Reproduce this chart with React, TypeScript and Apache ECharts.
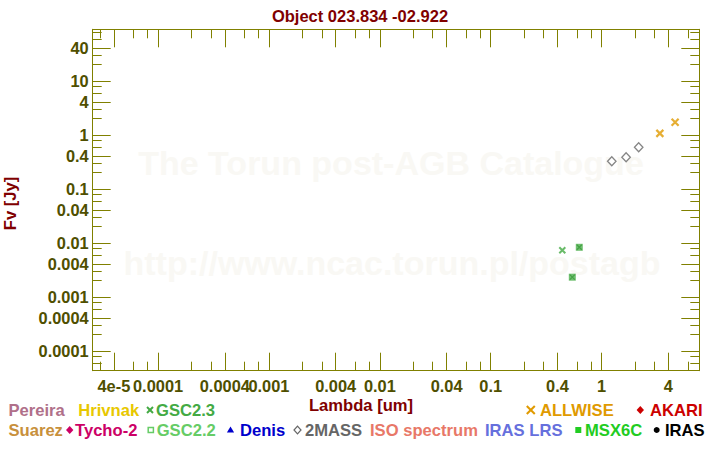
import React, { useEffect, useRef } from "react";
import * as echarts from "echarts";

// ---- data (wavelength in um, flux in Jy) ----
const allwiseLambda = [3.35, 4.6];
const allwiseFlux = [1.07, 1.72];
const twomassLambda = [1.235, 1.662, 2.159];
const twomassFlux = [0.326, 0.386, 0.592];
const gsc23Lambda = [0.442];
const gsc23Flux = [0.0073];
const gsc22Lambda = [0.544, 0.629];
const gsc22Flux = [0.00232, 0.0083];

// ---- axis ticks ----
const xRange = [2.575e-5, 7.6];
const yRange = [4.3e-5, 90.5];
const xMajorTicks = [4e-5, 1e-4, 4e-4, 1e-3, 4e-3, 0.01, 0.04, 0.1, 0.4, 1, 4];
const xMajorLabels = ["4e-5", "0.0001", "0.0004", "0.001", "0.004", "0.01", "0.04", "0.1", "0.4", "1", "4"];
const xMinorTicks = [3e-5, 6e-5, 8e-5, 2e-4, 3e-4, 6e-4, 8e-4, 2e-3, 3e-3, 6e-3, 8e-3, 0.02, 0.03, 0.06, 0.08, 0.2, 0.3, 0.6, 0.8, 2, 3, 6];
const yMajorTicks = [1e-4, 4e-4, 1e-3, 4e-3, 0.01, 0.04, 0.1, 0.4, 1, 4, 10, 40];
const yMajorLabels = ["0.0001", "0.0004", "0.001", "0.004", "0.01", "0.04", "0.1", "0.4", "1", "4", "10", "40"];
const yMinorTicks = [6e-5, 8e-5, 2e-4, 3e-4, 6e-4, 8e-4, 2e-3, 3e-3, 6e-3, 8e-3, 0.02, 0.03, 0.06, 0.08, 0.2, 0.3, 0.6, 0.8, 2, 3, 6, 8, 20, 30, 60, 80];

// ---- legend entries ----
const legendRow1 = [
  { label: "Pereira", color: "#b0708a", marker: "" },
  { label: "Hrivnak", color: "#e8c800", marker: "" },
  { label: "GSC2.3", color: "#44aa44", marker: "cross" },
  { label: "ALLWISE", color: "#e09a00", marker: "crossBig" },
  { label: "AKARI", color: "#cc0000", marker: "diamond" },
];
const legendRow2 = [
  { label: "Suarez", color: "#c8903c", marker: "" },
  { label: "Tycho-2", color: "#cc0066", marker: "diamond" },
  { label: "GSC2.2", color: "#66cc66", marker: "hollowSquare" },
  { label: "Denis", color: "#0000cc", marker: "triangle" },
  { label: "2MASS", color: "#666666", marker: "hollowDiamond" },
  { label: "ISO spectrum", color: "#e87868", marker: "" },
  { label: "IRAS LRS", color: "#6670dd", marker: "" },
  { label: "MSX6C", color: "#22cc22", marker: "square" },
  { label: "IRAS", color: "#000000", marker: "circle" },
];
// layout (left x of text, marker centre x) for each legend row
const legendRow1X = [[8.5, 0], [78.3, 0], [156, 150], [540, 530.8], [650, 640.3]];
const legendRow2X = [[8.5, 0], [75, 69.7], [156.7, 150.8], [240, 230.5], [305, 297.5], [370, 0], [485, 0], [585, 578.3], [665, 656.7]];

const FONT = '"Liberation Sans", Arial, Helvetica, sans-serif';
const AXIS_COLOR = "#808000";
const LABEL_COLOR = "#4f4f00";
const CROSS = "path://M0,0L10,10M10,0L0,10";
const LEGEND_SIZE = 16.6;

const lg = (v: number) => Math.log10(v);
const pts = (xs: number[], ys: number[]) => xs.map((x, i) => [lg(x), lg(ys[i])]);

function axisSet(dim: "x" | "y") {
  const isX = dim === "x";
  const major = (isX ? xMajorTicks : yMajorTicks).map(lg);
  const minor = (isX ? xMinorTicks : yMinorTicks).map(lg);
  const labels = isX ? xMajorLabels : yMajorLabels;
  const range = isX ? xRange : yRange;
  const p1 = isX ? "bottom" : "left";
  const p2 = isX ? "top" : "right";
  const fmt = (v: number) => {
    let best = 0;
    let bd = Infinity;
    major.forEach((m, i) => {
      const d = Math.abs(m - v);
      if (d < bd) {
        bd = d;
        best = i;
      }
    });
    return labels[best];
  };
  const mk = (pos: string, ticks: number[], len: number, line: boolean, label: boolean) => ({
    type: "value",
    position: pos,
    min: lg(range[0]),
    max: lg(range[1]),
    splitLine: { show: false },
    splitArea: { show: false },
    axisLine: { show: line, onZero: false, lineStyle: { color: AXIS_COLOR, width: 1 } },
    axisTick: { show: true, inside: true, length: len, customValues: ticks, lineStyle: { color: AXIS_COLOR, width: 1 } },
    axisLabel: label
      ? {
          show: true,
          customValues: major,
          formatter: fmt,
          color: LABEL_COLOR,
          fontSize: 16.4,
          fontWeight: "bold",
          fontFamily: FONT,
          margin: isX ? 7 : 4,
        }
      : { show: false },
  });
  return [mk(p1, major, 18, true, true), mk(p1, minor, 9, false, false), mk(p2, major, 18, true, false), mk(p2, minor, 9, false, false)];
}

function textEl(text: string, x: number, y: number, fill: string, extra: any = {}) {
  const { size, align, ...rest } = extra;
  return {
    type: "text",
    x,
    y,
    silent: true,
    z: 10,
    ...rest,
    style: {
      text,
      fill,
      font: `bold ${size || LEGEND_SIZE}px ${FONT}`,
      align: align || "left",
      verticalAlign: "middle",
      textAlign: align || "left",
      textVerticalAlign: "middle",
    },
  };
}

function markerEl(kind: string, cx: number, cy: number, color: string): any[] {
  switch (kind) {
    case "cross":
    case "crossBig": {
      const h = kind === "cross" ? 3 : 4;
      return [
        { type: "line", silent: true, z: 10, shape: { x1: cx - h, y1: cy - h, x2: cx + h, y2: cy + h }, style: { stroke: color, lineWidth: 2 } },
        { type: "line", silent: true, z: 10, shape: { x1: cx - h, y1: cy + h, x2: cx + h, y2: cy - h }, style: { stroke: color, lineWidth: 2 } },
      ];
    }
    case "diamond":
      return [{ type: "polygon", silent: true, z: 10, shape: { points: [[cx, cy - 4], [cx + 3.7, cy], [cx, cy + 4], [cx - 3.7, cy]] }, style: { fill: color } }];
    case "hollowDiamond":
      return [{ type: "polygon", silent: true, z: 10, shape: { points: [[cx, cy - 3.8], [cx + 3.5, cy], [cx, cy + 3.8], [cx - 3.5, cy]] }, style: { fill: "#fff", stroke: color, lineWidth: 1.2 } }];
    case "hollowSquare":
      return [{ type: "rect", silent: true, z: 10, shape: { x: cx - 2.6, y: cy - 2.6, width: 5.2, height: 5.2 }, style: { fill: "#fff", stroke: color, lineWidth: 1.5 } }];
    case "square":
      return [{ type: "rect", silent: true, z: 10, shape: { x: cx - 3, y: cy - 3, width: 6, height: 6 }, style: { fill: color } }];
    case "triangle":
      return [{ type: "polygon", silent: true, z: 10, shape: { points: [[cx, cy - 3.5], [cx + 3.6, cy + 2.5], [cx - 3.6, cy + 2.5]] }, style: { fill: color } }];
    case "circle":
      return [{ type: "circle", silent: true, z: 10, shape: { cx, cy, r: 3 }, style: { fill: color } }];
    default:
      return [];
  }
}

function buildLegend() {
  const els: any[] = [];
  const rows: [any[], number[][], number][] = [
    [legendRow1, legendRow1X, 410],
    [legendRow2, legendRow2X, 430],
  ];
  rows.forEach(([items, xs, y]) => {
    items.forEach((it: any, i: number) => {
      els.push(textEl(it.label, xs[i][0], y, it.color));
      if (it.marker) els.push(...markerEl(it.marker, xs[i][1], y, it.color));
    });
  });
  return els;
}

export default function App() {
  const ref = useRef<HTMLDivElement>(null);
  useEffect(() => {
    if (!ref.current) return;
    const chart = echarts.init(ref.current, null, { renderer: "svg" });
    const option: any = {
      animation: false,
      backgroundColor: "#ffffff",
      title: {
        text: "Object 023.834 -02.922",
        left: "center",
        top: 2,
        textStyle: { color: "#800000", fontSize: 16.5, fontWeight: "bold", fontFamily: FONT },
      },
      grid: { left: 92.7, right: 20.7, top: 29.3, bottom: 79.3, containLabel: false, outerBoundsMode: "none" },
      xAxis: axisSet("x"),
      yAxis: axisSet("y"),
      graphic: [
        {
          type: "text",
          x: 391,
          y: 163,
          z: 0,
          silent: true,
          style: { text: "The Torun post-AGB Catalogue", fill: "#f9f8f4", font: `bold 34px ${FONT}`, align: "center", verticalAlign: "middle", textAlign: "center", textVerticalAlign: "middle" },
        },
        {
          type: "text",
          x: 392,
          y: 263,
          z: 0,
          silent: true,
          style: { text: "http://www.ncac.torun.pl/postagb", fill: "#f9f8f4", font: `bold 34px ${FONT}`, align: "center", verticalAlign: "middle", textAlign: "center", textVerticalAlign: "middle" },
        },
        textEl("Lambda [um]", 361, 405, "#800000", { align: "center" }),
        textEl("Fv [Jy]", 10.7, 203.5, "#800000", { align: "center", rotation: Math.PI / 2 }),
        ...buildLegend(),
      ],
      series: [
        {
          type: "scatter",
          name: "GSC2.2",
          xAxisIndex: 0,
          yAxisIndex: 0,
          silent: true,
          data: pts(gsc22Lambda, gsc22Flux),
          symbol: "rect",
          symbolSize: 7,
          itemStyle: { color: "#4db04d" },
        },
        {
          type: "scatter",
          name: "GSC2.2 overlay",
          xAxisIndex: 0,
          yAxisIndex: 0,
          silent: true,
          data: pts(gsc22Lambda, gsc22Flux),
          symbol: CROSS,
          symbolSize: 5,
          itemStyle: { color: "rgba(0,0,0,0)", borderColor: "#3a9a3a", borderWidth: 1.2 },
        },
        {
          type: "scatter",
          name: "GSC2.3",
          xAxisIndex: 0,
          yAxisIndex: 0,
          silent: true,
          data: pts(gsc23Lambda, gsc23Flux),
          symbol: CROSS,
          symbolSize: 6,
          itemStyle: { color: "rgba(0,0,0,0)", borderColor: "#44aa44", borderWidth: 2 },
        },
        {
          type: "scatter",
          name: "2MASS",
          xAxisIndex: 0,
          yAxisIndex: 0,
          silent: true,
          data: pts(twomassLambda, twomassFlux),
          symbol: "diamond",
          symbolSize: [8.5, 9],
          itemStyle: { color: "#ffffff", borderColor: "#666666", borderWidth: 1.3 },
        },
        {
          type: "scatter",
          name: "ALLWISE",
          xAxisIndex: 0,
          yAxisIndex: 0,
          silent: true,
          data: pts(allwiseLambda, allwiseFlux),
          symbol: CROSS,
          symbolSize: 7,
          itemStyle: { color: "rgba(0,0,0,0)", borderColor: "#e09a00", borderWidth: 2.2 },
        },
      ],
    };
    chart.setOption(option);
    return () => chart.dispose();
  }, []);
  return <div ref={ref} style={{ position: "absolute", left: 0, top: 0, width: 720, height: 450 }} />;
}
